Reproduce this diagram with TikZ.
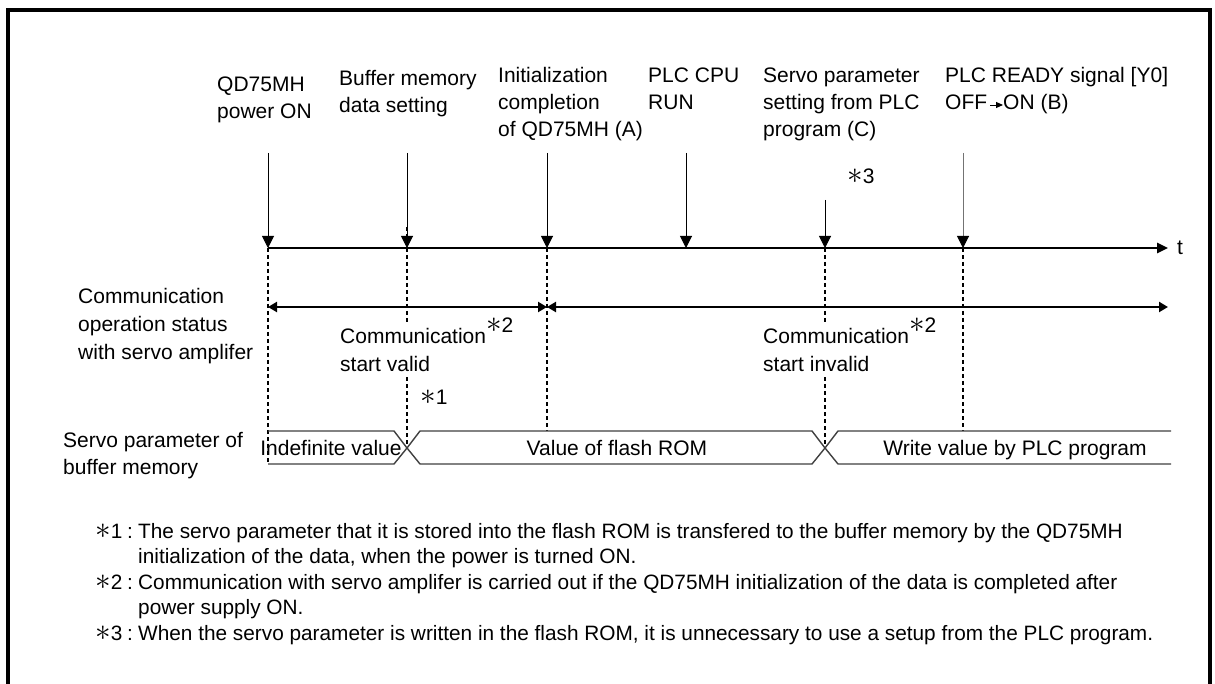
\documentclass[tikz,border=0pt]{standalone}
\usepackage{fontspec}
\usepackage{graphicx}
\setmainfont{Liberation Sans}
\usetikzlibrary{arrows.meta}
\newcommand{\ml}[1]{\begin{tabular}[t]{@{}l@{}}#1\end{tabular}}
\newcommand{\bigast}{\scalebox{1.5}{$\ast$}}
\newcommand{\fnmark}[1]{\makebox[43pt][l]{\makebox[32pt][l]{\bigast#1}:}}
\begin{document}
\begin{tikzpicture}[x=1pt,y=-1pt,
  lbl/.style={anchor=base west,inner sep=0pt,font=\fontsize{21}{27}\selectfont},
  lbltwo/.style={anchor=base west,inner sep=0pt,font=\fontsize{21}{28}\selectfont},
  note/.style={anchor=base west,inner sep=0pt,font=\fontsize{20.8}{25.5}\selectfont},
  evt/.style={line width=1pt,-{Triangle[length=12pt,width=12pt,color=black]}},
  guide/.style={line width=1.8pt,dash pattern=on 4pt off 3pt},
  axisline/.style={line width=2.5pt,-{Triangle[length=11pt,width=10pt]}},
  span/.style={line width=2.5pt,{Triangle[length=9pt,width=10pt]}-{Triangle[length=9pt,width=10pt]}},
  bus/.style={line width=1.4pt,draw=black!75},
  frame/.style={line width=4pt}
]
\useasboundingbox (0,0) rectangle (1215,684);
\fill[white] (0,0) rectangle (1215,684);
% frame
\draw[frame] (7.5,684) -- (7.5,10) -- (1210,10) -- (1210,684);

% top labels
\node[lbl] (l1) at (217,92) {\ml{QD75MH\\power ON}};
\node[lbl] (l2) at (339,86) {\ml{Buffer memory\\data setting}};
\node[lbl] (l3) at (498,83) {\ml{Initialization\\completion\\of QD75MH (A)}};
\node[lbl] (l4) at (648,83) {\ml{PLC CPU\\RUN}};
\node[lbl] (l5) at (763,83) {\ml{Servo parameter\\setting from PLC\\program (C)}};
\node[lbl] (l6) at (945,83) {\ml{PLC READY signal [Y0]\\OFF\hspace{16pt}ON (B)}};
\coordinate (offa) at (990,105);
\coordinate (offb) at (1003,105);
\draw[line width=0.9pt,-{Triangle[length=7pt,width=6pt]}] (offa) -- (offb);
\node[lbl] (n3) at (847,184) {\bigast3};

% event coordinates
\coordinate (s1) at (268,153); \coordinate (p1) at (268,248);
\coordinate (s2) at (407,153); \coordinate (p2) at (407,248);
\coordinate (s3) at (547,153); \coordinate (p3) at (547,248);
\coordinate (s4) at (686,153); \coordinate (p4) at (686,248);
\coordinate (s5) at (825,200); \coordinate (p5) at (825,248);
\coordinate (s6) at (963,153); \coordinate (p6) at (963,248);
\coordinate (ax0) at (268,248); \coordinate (ax1) at (1168,248);

% dashed guides
\coordinate (g2a) at (407,227); \coordinate (g2b) at (407,323);
\coordinate (g2c) at (407,377); \coordinate (g2d) at (407,448);
\coordinate (g5b) at (825,323); \coordinate (g5c) at (825,377); \coordinate (g5d) at (825,448);
\coordinate (b1) at (268,464); \coordinate (b3) at (547,431); \coordinate (b6) at (963,431);
\draw[guide] (p1) -- (b1);
\draw[guide] (g2a) -- (g2b);
\draw[guide] (g2c) -- (g2d);
\draw[guide] (p3) -- (b3);
\draw[guide] (p5) -- (g5b);
\draw[guide] (g5c) -- (g5d);
\draw[guide] (p6) -- (b6);

% axis and event arrows
\draw[axisline] (ax0) -- (ax1);
\node[lbl] (t) at (1177,255) {t};
\draw[evt] (s1) -- (p1);
\draw[evt] (s2) -- (p2);
\draw[evt] (s3) -- (p3);
\draw[evt] (s4) -- (p4);
\draw[evt] (s5) -- (p5);
\draw[evt,draw=black!55] (s6) -- (p6);

% communication status
\coordinate (c1) at (268,307); \coordinate (c2) at (547,307); \coordinate (c3) at (1168,307);
\draw[span] (c1) -- (c2);
\draw[span] (c2) -- (c3);
\node[lbltwo] (cl) at (78,304) {\ml{Communication\\operation status\\with servo amplifer}};
\node[lbltwo] (cv) at (340,344) {\ml{Communication\raisebox{11pt}{\bigast2}\\start valid}};
\node[lbltwo] (ci) at (763,344) {\ml{Communication\raisebox{11pt}{\bigast2}\\start invalid}};
\node[lbl] (n1) at (420,404) {\bigast1};

% buffer memory bus
\node[lbl] (bl) at (63,447) {\ml{Servo parameter of\\buffer memory}};
\draw[bus] (268,431) -- (394,431) -- (407,448) -- (394,464) -- (268,464);
\draw[bus] (420,431) -- (812,431) -- (825,448) -- (812,464) -- (420,464) -- (407,448) -- cycle;
\draw[bus] (1171,431) -- (838,431) -- (825,448) -- (838,464) -- (1171,464);
\node[lbl,anchor=base] (v1) at (331,455) {Indefinite value};
\node[lbl,anchor=base] (v2) at (617,455) {Value of flash ROM};
\node[lbl,anchor=base] (v3) at (1015,455) {Write value by PLC program};

% footnotes
\node[note] (f1) at (95,538) {\fnmark{1}\ml{The servo parameter that it is stored into the flash ROM is transfered to the buffer memory by the QD75MH\\initialization of the data, when the power is turned ON.}};
\node[note] (f2) at (95,589) {\fnmark{2}\ml{Communication with servo amplifer is carried out if the QD75MH initialization of the data is completed after\\power supply ON.}};
\node[note] (f3) at (95,640) {\fnmark{3}\ml{When the servo parameter is written in the flash ROM, it is unnecessary to use a setup from the PLC program.}};
\end{tikzpicture}
\end{document}
